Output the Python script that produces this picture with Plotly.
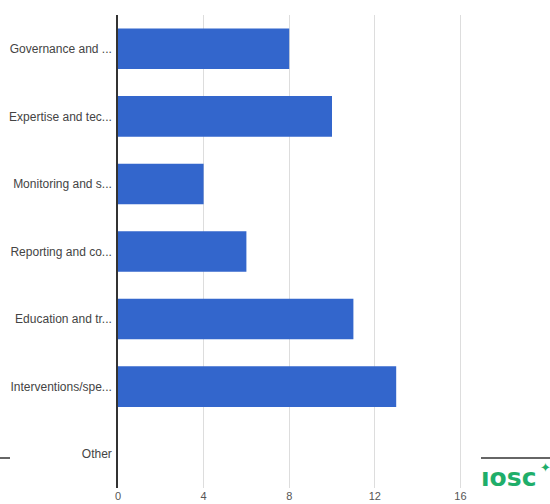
import plotly.graph_objects as go

categories = ["Governance and ...", "Expertise and tec...", "Monitoring and s...",
              "Reporting and co...", "Education and tr...", "Interventions/spe...", "Other"]
values = [8, 10, 4, 6, 11, 13, 0]
x_ticks = [0, 4, 8, 12, 16]

W, H = 550, 504
L, R, T, B = 118, 0, 15, 16
pw, ph = W - L - R, H - T - B

def px_x(p):
    return (p - L) / pw

def px_y(p):
    return (H - B - p) / ph

fig = go.Figure(go.Bar(
    y=categories, x=values, orientation="h",
    marker=dict(color="#3366cc", line=dict(width=0)),
))

fig.update_layout(
    width=W, height=H,
    margin=dict(l=L, r=R, t=T, b=B, autoexpand=False),
    paper_bgcolor="white", plot_bgcolor="white",
    bargap=0.4, showlegend=False,
    font=dict(family="Liberation Sans, Arial, sans-serif", size=12, color="#444"),
    xaxis=dict(range=[0, pw / 21.4], tickvals=x_ticks, ticktext=[str(v) for v in x_ticks],
               showgrid=True, gridcolor="#dddddd", gridwidth=1, automargin=False,
               zeroline=False, showline=False, ticks="",
               tickfont=dict(size=11, color="#555")),
    yaxis=dict(categoryorder="array", categoryarray=categories[::-1], automargin=False,
               showgrid=False, zeroline=False, showline=True, linecolor="#333333", linewidth=1.5,
               ticks="", ticklabelstandoff=2, tickfont=dict(size=12, color="#444")),
)

# slide decorations
fig.add_shape(type="line", xref="paper", yref="paper",
              x0=px_x(0), x1=px_x(10), y0=px_y(458), y1=px_y(458),
              line=dict(color="#333", width=1.5))
fig.add_shape(type="line", xref="paper", yref="paper",
              x0=px_x(481), x1=px_x(550), y0=px_y(458), y1=px_y(458),
              line=dict(color="#333", width=1.5))
fig.add_annotation(xref="paper", yref="paper", x=px_x(479), y=px_y(477),
                   text="<b>ıosc</b>", showarrow=False, xanchor="left", yanchor="middle",
                   font=dict(family="DejaVu Sans, sans-serif", size=25, color="#1fae6a"))
fig.add_annotation(xref="paper", yref="paper", x=px_x(545), y=px_y(467),
                   text="✦", showarrow=False, xanchor="center", yanchor="middle",
                   font=dict(size=13, color="#1fae6a"))

fig.write_html("out.html", config={"displayModeBar": False},
               post_script="document.body.style.margin='0';document.body.style.overflow='hidden';")
